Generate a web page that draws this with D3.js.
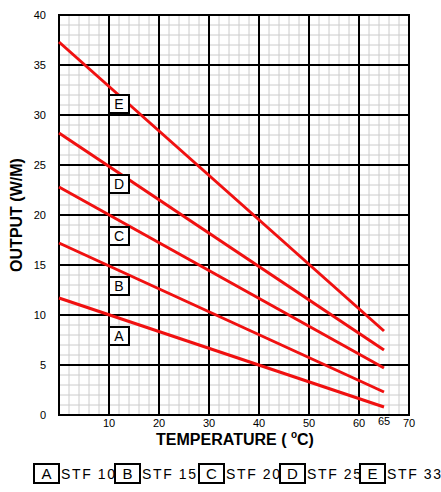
<!DOCTYPE html>
<html>
<head>
<style>
  body { margin: 0; background: #fff; font-family: "Liberation Sans", Arial, sans-serif; }
</style>
<script src="https://cdn.jsdelivr.net/npm/d3@7"></script>
</head>
<body>
<div id="chart"></div>
<script>
  // Series: output at 0 and 65 degC
  var codes = ["A", "B", "C", "D", "E"];
  var names = ["STF 10", "STF 15", "STF 20", "STF 25", "STF 33"];
  var startVals = [11.7, 17.2, 22.8, 28.2, 37.3];
  var endVals = [0.8, 2.3, 4.7, 6.5, 8.4];
  var labelY = [7.9, 12.9, 17.9, 23.1, 31.1];
  var xTicks = [10, 20, 30, 40, 50, 60, 70];
  var yTicks = [0, 5, 10, 15, 20, 25, 30, 35, 40];

  var svg = d3.select("#chart").append("svg").attr("width", 441).attr("height", 492);
  var x = d3.scaleLinear().domain([0, 70]).range([59, 409]);
  var y = d3.scaleLinear().domain([0, 40]).range([415, 15]);

  // minor grid
  var g = svg.append("g");
  d3.range(2, 70, 2).forEach(function (v) {
    g.append("line").attr("x1", x(v)).attr("x2", x(v)).attr("y1", y(0)).attr("y2", y(40))
      .attr("stroke", "#ccc").attr("stroke-width", 1);
  });
  d3.range(1, 40, 1).forEach(function (v) {
    g.append("line").attr("x1", x(0)).attr("x2", x(70)).attr("y1", y(v)).attr("y2", y(v))
      .attr("stroke", "#ccc").attr("stroke-width", 1);
  });
  // major grid
  d3.range(10, 70, 10).forEach(function (v) {
    g.append("line").attr("x1", x(v)).attr("x2", x(v)).attr("y1", y(0)).attr("y2", y(40))
      .attr("stroke", "#000").attr("stroke-width", 2);
  });
  d3.range(5, 40, 5).forEach(function (v) {
    g.append("line").attr("x1", x(0)).attr("x2", x(70)).attr("y1", y(v)).attr("y2", y(v))
      .attr("stroke", "#000").attr("stroke-width", 2);
  });
  g.append("rect").attr("x", x(0)).attr("y", y(40)).attr("width", x(70) - x(0)).attr("height", y(0) - y(40))
    .attr("fill", "none").attr("stroke", "#000").attr("stroke-width", 2);

  // tick labels
  yTicks.forEach(function (v) {
    svg.append("text").attr("x", 46).attr("y", y(v) + 4).attr("text-anchor", "end")
      .attr("font-size", 11).text(v);
  });
  xTicks.forEach(function (v) {
    svg.append("text").attr("x", x(v)).attr("y", 427).attr("text-anchor", "middle")
      .attr("font-size", 11).text(v);
  });
  svg.append("text").attr("x", x(65)).attr("y", 425).attr("text-anchor", "middle")
    .attr("font-size", 11).text(65);

  // lines
  codes.forEach(function (c, i) {
    svg.append("line").attr("x1", x(0)).attr("y1", y(startVals[i]))
      .attr("x2", x(65)).attr("y2", y(endVals[i]))
      .attr("stroke", "#f01010").attr("stroke-width", 3);
  });

  // series label boxes
  codes.forEach(function (c, i) {
    svg.append("rect").attr("x", x(10)).attr("y", y(labelY[i]) - 9).attr("width", 20).attr("height", 18)
      .attr("fill", "#fff").attr("stroke", "#000").attr("stroke-width", 2);
    svg.append("text").attr("x", x(10) + 10).attr("y", y(labelY[i]) + 5).attr("text-anchor", "middle")
      .attr("font-size", 14).text(c);
  });

  // axis titles
  var xt = svg.append("text").attr("x", 235).attr("y", 445).attr("text-anchor", "middle")
    .attr("font-size", 16).attr("font-weight", "bold");
  xt.append("tspan").text("TEMPERATURE ( ");
  xt.append("tspan").attr("font-size", 10).attr("dy", -7).text("o");
  xt.append("tspan").attr("dy", 7).text("C)");
  svg.append("text").attr("transform", "translate(22,215) rotate(-90)").attr("text-anchor", "middle")
    .attr("font-size", 16).attr("font-weight", "bold").text("OUTPUT (W/M)");

  // legend
  var lx = [34, 115, 199, 280, 360];
  codes.forEach(function (c, i) {
    svg.append("rect").attr("x", lx[i]).attr("y", 464).attr("width", 25).attr("height", 19)
      .attr("fill", "#fff").attr("stroke", "#000").attr("stroke-width", 2);
    svg.append("text").attr("x", lx[i] + 12.5).attr("y", 479).attr("text-anchor", "middle")
      .attr("font-size", 15).text(c);
    svg.append("text").attr("x", lx[i] + 27).attr("y", 479).attr("font-size", 14).attr("textLength", 54)
      .text(names[i]);
  });
</script>
</body>
</html>
